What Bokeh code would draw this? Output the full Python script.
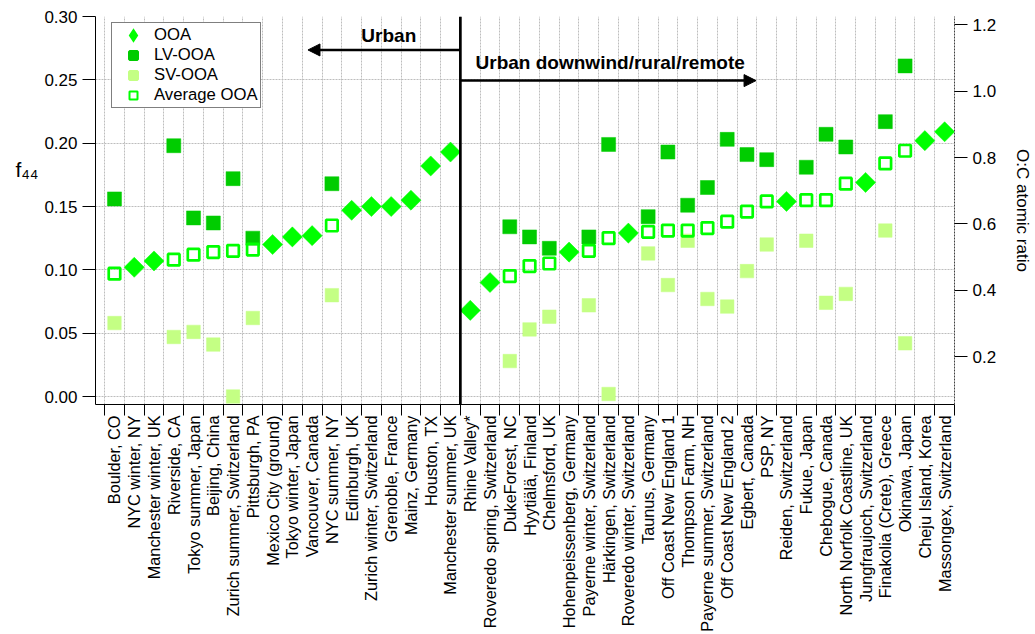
import numpy as np
from bokeh.plotting import figure
from bokeh.models import (ColumnDataSource, Range1d, LinearAxis, FixedTicker,
                          NumeralTickFormatter, Arrow, NormalHead, Label,
                          Legend, LegendItem)
from bokeh.embed import file_html
from bokeh.resources import INLINE

sites = [
    "Boulder, CO", "NYC winter, NY", "Manchester winter, UK", "Riverside, CA",
    "Tokyo summer, Japan", "Beijing, China", "Zurich summer, Switzerland",
    "Pittsburgh, PA", "Mexico City (ground)", "Tokyo winter, Japan",
    "Vancouver, Canada", "NYC summer, NY", "Edinburgh, UK",
    "Zurich winter, Switzerland", "Grenoble, France", "Mainz, Germany",
    "Houston, TX", "Manchester summer, UK",
    "Rhine Valley*", "Roveredo spring, Switzerland", "DukeForest, NC",
    "Hyytiälä, Finland", "Chelmsford, UK", "Hohenpeissenberg, Germany",
    "Payerne winter, Switzerland", "Härkingen, Switzerland",
    "Roveredo winter, Switzerland", "Taunus, Germany", "Off Coast New England 1",
    "Thompson Farm, NH", "Payerne summer, Switzerland", "Off Coast New England 2",
    "Egbert, Canada", "PSP, NY", "Reiden, Switzerland", "Fukue, Japan",
    "Chebogue, Canada", "North Norfolk Coastline, UK", "Jungfraujoch, Switzerland",
    "Finakolia (Crete), Greece", "Okinawa, Japan", "Cheju Island, Korea",
    "Massongex, Switzerland",
]
n_urban = 18

ooa = [None, 0.102, 0.107, None, None, None, None, None, 0.120, 0.126,
       0.127, None, 0.147, 0.150, 0.150, 0.155, 0.182, 0.193,
       0.068, 0.090, None, None, None, 0.114, None, None, 0.129, None, None,
       None, None, None, None, None, 0.154, None, None, None, 0.169, None,
       None, 0.202, 0.209]
lv_ooa = [0.156, None, None, 0.198, 0.141, 0.137, 0.172, 0.125, None, None,
          None, 0.168, None, None, None, None, None, None,
          None, None, 0.134, 0.126, 0.117, None, 0.126, 0.199, None, 0.142,
          0.193, 0.151, 0.165, 0.203, 0.191, 0.187, None, 0.181, 0.207, 0.197,
          None, 0.217, 0.261, None, None]
sv_ooa = [0.058, None, None, 0.047, 0.051, 0.041, 0.000, 0.062, None, None,
          None, 0.080, None, None, None, None, None, None,
          None, None, 0.028, 0.053, 0.063, None, 0.072, 0.002, None, 0.113,
          0.088, 0.123, 0.077, 0.071, 0.099, 0.120, None, 0.123, 0.074, 0.081,
          None, 0.131, 0.042, None, None]
avg_ooa = [0.097, None, None, 0.108, 0.112, 0.114, 0.115, 0.116, None, None,
           None, 0.135, None, None, None, None, None, None,
           None, None, 0.095, 0.103, 0.105, None, 0.115, 0.125, None, 0.130,
           0.131, 0.131, 0.133, 0.138, 0.146, 0.154, None, 0.155, 0.155, 0.168,
           None, 0.184, 0.194, None, None]

f44_ticks = [0.00, 0.05, 0.10, 0.15, 0.20, 0.25, 0.30]
oc_ticks = [0.2, 0.4, 0.6, 0.8, 1.0, 1.2]
# O:C = 3.82 * f44 + 0.0794 (Aiken et al., 2008)
OC_SLOPE, OC_INTERCEPT = 3.82, 0.0794

FONT = "Liberation Sans"
Y0, Y1 = -0.0063, 0.30

C_OOA, C_LV, C_SV, C_AVG = "#00FF00", "#00CC00", "#C4FF84", "#00FF00"

idx = list(range(len(sites)))
bounds = [i - 0.5 for i in range(len(sites) + 1)]


def arr(v):
    return np.array([np.nan if a is None else a for a in v], dtype=float)


p = figure(width=1035, height=634, x_range=Range1d(-0.96, len(sites) - 0.5),
           y_range=Range1d(Y0, Y1), output_backend="svg", toolbar_location=None,
           min_border_left=95, min_border_right=78, min_border_top=16,
           min_border_bottom=230)
p.outline_line_color = None
p.background_fill_color = "white"

p.extra_y_ranges = {"oc": Range1d(OC_SLOPE * Y0 + OC_INTERCEPT,
                                  OC_SLOPE * Y1 + OC_INTERCEPT)}

# grids
p.xgrid.ticker = FixedTicker(ticks=bounds)
for g in (p.xgrid[0], p.ygrid[0]):
    g.grid_line_color = "#bdbdbd"
    g.grid_line_dash = "2 1"
    g.grid_line_width = 1

# bottom axis
xa = p.xaxis[0]
xa.ticker = FixedTicker(ticks=idx, minor_ticks=bounds)
xa.major_label_overrides = {i: s for i, s in enumerate(sites)}
xa.major_label_orientation = np.pi / 2
xa.major_tick_out = 0
xa.major_tick_in = 0
xa.minor_tick_out = 11
xa.minor_tick_in = 0
xa.minor_tick_line_color = "black"
xa.major_label_standoff = 0
xa.major_label_text_font = FONT
xa.major_label_text_font_size = "16.3px"
xa.major_label_text_color = "black"
xa.axis_line_color = "black"

# left axis
ya = p.yaxis[0]
ya.ticker = FixedTicker(ticks=f44_ticks)
ya.formatter = NumeralTickFormatter(format="0.00")
ya.major_tick_out = 13
ya.major_tick_in = 0
ya.minor_tick_out = 0
ya.minor_tick_in = 0
ya.major_tick_line_color = "black"
ya.major_label_standoff = 5
ya.major_label_text_font = FONT
ya.major_label_text_font_size = "17px"
ya.major_label_text_color = "black"
ya.axis_line_color = "black"
ya.axis_label = "f\u2084\u2084\n \n \n "
ya.axis_label_orientation = "horizontal"
ya.axis_label_text_font = FONT
ya.axis_label_text_font_size = "21px"
ya.axis_label_text_font_style = "normal"
ya.axis_label_text_color = "black"
ya.axis_label_standoff = 3

# right axis
ra = LinearAxis(y_range_name="oc", ticker=FixedTicker(ticks=oc_ticks),
                formatter=NumeralTickFormatter(format="0.0"),
                axis_label="O:C atomic ratio")
ra.major_tick_out = 13
ra.major_tick_in = 0
ra.minor_tick_out = 0
ra.minor_tick_in = 0
ra.major_label_standoff = 5
ra.major_label_text_font = FONT
ra.major_label_text_font_size = "17px"
ra.major_label_text_color = "black"
ra.axis_label_text_font = FONT
ra.axis_label_text_font_size = "17px"
ra.axis_label_text_font_style = "normal"
ra.axis_label_text_color = "black"
ra.axis_label_standoff = 14
ra.axis_line_color = "#404040"
ra.axis_line_dash = "2 1"
p.add_layout(ra, "right")

# data
x = np.array(idx, dtype=float)
src_lv = ColumnDataSource(dict(x=x, y=arr(lv_ooa)))
src_sv = ColumnDataSource(dict(x=x, y=arr(sv_ooa)))
src_avg = ColumnDataSource(dict(x=x, y=arr(avg_ooa)))
src_ooa = ColumnDataSource(dict(x=x, y=arr(ooa)))

p.scatter("x", "y", source=src_lv, marker="square", size=14,
          fill_color=C_LV, line_color=C_LV, line_width=0.5)
p.scatter("x", "y", source=src_sv, marker="square", size=13.5,
          fill_color=C_SV, line_color=C_SV, line_width=0.5)
p.scatter("x", "y", source=src_avg, marker="square", size=11.5,
          fill_color=None, line_color=C_AVG, line_width=2.7)
p.scatter("x", "y", source=src_ooa, marker="square", size=14.2,
          angle=np.pi / 4, fill_color=C_OOA, line_color=C_OOA, line_width=0.5)


# legend key glyphs (a single undrawn NaN point, styled for the legend box)
def key_source():
    return ColumnDataSource(dict(x=[np.nan], y=[np.nan]))


k_ooa = p.scatter("x", "y", source=key_source(), marker="diamond",
                  size=8, fill_color=C_OOA, line_color=C_OOA,
                  line_width=3.5, line_join="miter")
k_lv = p.scatter("x", "y", source=key_source(), marker="square",
                 size=8, fill_color=C_LV, line_color=C_LV, line_width=3)
k_sv = p.scatter("x", "y", source=key_source(), marker="square",
                 size=8, fill_color=C_SV, line_color=C_SV, line_width=3)
k_avg = p.scatter("x", "y", source=key_source(), marker="square",
                  size=7, fill_color=None, line_color=C_AVG, line_width=2)

# divider between urban and the rest
xdiv = n_urban - 0.5
p.add_layout(Arrow(end=None, x_start=xdiv, y_start=Y1, x_end=xdiv, y_end=-0.18,
                   line_color="black", line_width=2.7))
p.add_layout(Arrow(end=NormalHead(size=12, fill_color="black", line_color="black",
                                  line_width=1),
                   x_start=xdiv, y_start=0.2736, x_end=9.79, y_end=0.2736,
                   line_color="black", line_width=2.5))
p.add_layout(Arrow(end=NormalHead(size=12, fill_color="black", line_color="black",
                                  line_width=1),
                   x_start=xdiv, y_start=0.2494, x_end=32.46, y_end=0.2494,
                   line_color="black", line_width=2.5))
p.add_layout(Label(x=13.88, y=0.2849, text="Urban", text_font=FONT,
                   text_font_size="19px", text_font_style="bold",
                   text_align="center", text_baseline="middle", text_color="black"))
p.add_layout(Label(x=18.27, y=0.2636, text="Urban downwind/rural/remote",
                   text_font=FONT, text_font_size="19px", text_font_style="bold",
                   text_align="left", text_baseline="middle", text_color="black"))

legend = Legend(items=[
    LegendItem(label="OOA", renderers=[k_ooa]),
    LegendItem(label="LV-OOA", renderers=[k_lv]),
    LegendItem(label="SV-OOA", renderers=[k_sv]),
    LegendItem(label="Average OOA", renderers=[k_avg]),
], location=(16, 296))
legend.border_line_color = "black"
legend.border_line_width = 1
legend.background_fill_color = "white"
legend.background_fill_alpha = 1
legend.label_text_font = FONT
legend.label_text_font_size = "16.7px"
legend.label_text_color = "black"
legend.glyph_width = 38
legend.glyph_height = 20
legend.label_height = 20
legend.spacing = 0
legend.padding = 2
legend.margin = 0
legend.label_standoff = 2
p.add_layout(legend)

open("out.html", "w").write(file_html(p, INLINE))
